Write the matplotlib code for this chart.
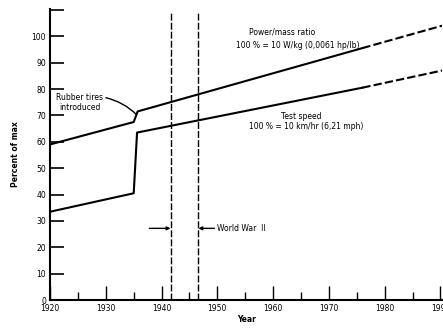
import matplotlib
matplotlib.use("Agg")
import matplotlib.pyplot as plt
from matplotlib.ticker import MultipleLocator

# Data
power_years = [1920, 1935, 1935.7, 1976]
power_vals = [59, 67.5, 71.5, 95.5]
power_dash_years = [1976, 1990.3]
power_dash_vals = [95.5, 104]

speed_years = [1920, 1935, 1935.6, 1976]
speed_vals = [33.5, 40.5, 63.5, 80.5]
speed_dash_years = [1976, 1990.3]
speed_dash_vals = [80.5, 87]

war_years = [1941.6, 1946.6]
y_ticks = list(range(0, 120, 10))
y_labels = [str(v) if v <= 100 else "" for v in y_ticks]
x_ticks = list(range(1920, 2000, 10))

fig = plt.figure(figsize=(4.43, 3.28), dpi=100)
ax = fig.add_axes([0.113, 0.085, 0.885, 0.893])
fs = 5.5
lw = 1.5

ax.plot(power_years, power_vals, color="black", lw=lw)
ax.plot(power_dash_years, power_dash_vals, color="black", lw=lw, ls=(0, (4, 1.5)))
ax.plot(speed_years, speed_vals, color="black", lw=lw)
ax.plot(speed_dash_years, speed_dash_vals, color="black", lw=lw, ls=(0, (4, 1.5)))

for wy in war_years:
    ax.plot([wy, wy], [0, 109], color="black", lw=1.0, ls=(0, (5, 1.5)))

ax.set_xlim(1920, 1990.3)
ax.set_ylim(0, 111)

for s in ["top", "right"]:
    ax.spines[s].set_visible(False)
ax.spines["left"].set_linewidth(1.5)
ax.spines["bottom"].set_linewidth(1.5)
ax.spines["left"].set_bounds(0, 110.5)

ax.set_yticks(y_ticks)
ax.set_yticklabels(y_labels, fontsize=fs)
ax.set_xticks(x_ticks)
ax.set_xticklabels([str(x) for x in x_ticks], fontsize=fs)
ax.xaxis.set_minor_locator(MultipleLocator(5))
ax.tick_params(axis="y", direction="in", length=10, width=1.2, pad=3)
ax.tick_params(axis="x", which="major", direction="in", length=10, width=1.0, pad=3)
ax.tick_params(axis="x", which="minor", direction="in", length=6, width=1.0)

ax.set_ylabel("Percent of max", fontsize=fs, fontweight="bold", labelpad=8)
ax.set_xlabel("Year", fontsize=fs, fontweight="bold", labelpad=1)

ax.text(1961.7, 101.5, "Power/mass ratio", fontsize=fs, ha="center", va="center")
ax.text(1964.5, 96.5, "100 % = 10 W/kg (0,0061 hp/lb)", fontsize=fs, ha="center", va="center")
ax.text(1965.0, 69.5, "Test speed", fontsize=fs, ha="center", va="center")
ax.text(1966.0, 65.7, "100 % = 10 km/hr (6,21 mph)", fontsize=fs, ha="center", va="center")

ax.annotate("Rubber tires\nintroduced", xy=(1935.5, 70.3), xytext=(1925.3, 74.8),
            fontsize=fs, ha="center", va="center", linespacing=1.1,
            arrowprops=dict(arrowstyle="-", color="black", lw=1.0,
                            shrinkA=0, shrinkB=0,
                            connectionstyle="arc3,rad=-0.15",
                            relpos=(1.0, 0.8)))

ax.annotate("", xy=(war_years[0], 27.2), xytext=(1937.8, 27.2),
            arrowprops=dict(arrowstyle="-|>", color="black", lw=1.0,
                            mutation_scale=5, shrinkA=0, shrinkB=0))
ax.annotate("", xy=(war_years[1], 27.2), xytext=(1949.5, 27.2),
            arrowprops=dict(arrowstyle="-|>", color="black", lw=1.0,
                            mutation_scale=5, shrinkA=0, shrinkB=0))
ax.text(1949.9, 27.2, "World War  II", fontsize=fs, ha="left", va="center")

fig.savefig("out.png", dpi=100)
